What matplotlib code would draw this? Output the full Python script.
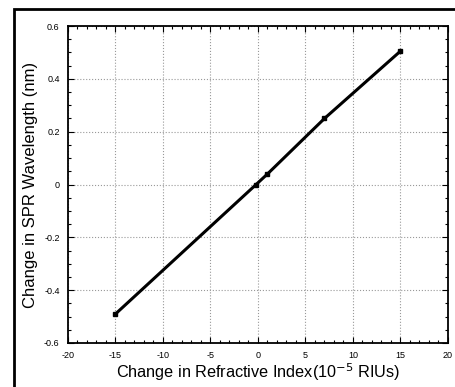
import matplotlib
matplotlib.use("Agg")
import matplotlib.pyplot as plt
from matplotlib.ticker import MultipleLocator, FixedLocator
from matplotlib.patches import Rectangle

x_vals = [-15, -0.2, 1, 7, 15]
y_vals = [-0.49, 0.0, 0.04, 0.25, 0.505]
x_ticks = [-20, -15, -10, -5, 0, 5, 10, 15, 20]
y_ticks = [-0.6, -0.4, -0.2, 0, 0.2, 0.4, 0.6]
y_tick_labels = ["-0.6", "-0.4", "-0.2", "0", "0.2", "0.4", "0.6"]

plt.rcParams['font.family'] = ['Liberation Sans', 'DejaVu Sans']
plt.rcParams['axes.unicode_minus'] = False
fig = plt.figure(figsize=(4.56, 3.87), dpi=100)
W, H = 456, 387
ax = fig.add_axes([68 / W, 1 - 343 / H, (448 - 68) / W, (343 - 26) / H])

# outer frame
fig.patches.append(Rectangle((14 / W, -0.1), 1.2, (1 - 9 / H) + 0.1, transform=fig.transFigure,
                             fill=False, edgecolor='black', linewidth=2.0))

ax.plot(x_vals, y_vals, color='black', linewidth=2.2, marker='s', markersize=3)
ax.set_xlim(-20, 20)
ax.set_ylim(-0.6, 0.6)
ax.xaxis.set_major_locator(FixedLocator(x_ticks))
ax.yaxis.set_major_locator(FixedLocator(y_ticks))
ax.set_yticklabels(y_tick_labels)
ax.xaxis.set_minor_locator(MultipleLocator(1))
ax.yaxis.set_minor_locator(MultipleLocator(0.05))
ax.tick_params(which='both', direction='in', top=True, right=True, labelsize=6.5, width=0.8)
ax.tick_params(which='major', length=4, pad=6)
ax.tick_params(which='minor', length=2)
ax.grid(True, which='major', linestyle=':', color='#999999', linewidth=0.8)
for s in ax.spines.values():
    s.set_linewidth(1.3)
ax.set_xlabel("Change in Refractive Index(10$^{-5}$ RIUs)", fontsize=11.7, labelpad=1)
ax.set_ylabel("Change in SPR Wavelength (nm)", fontsize=12, labelpad=4)

fig.savefig("out.png", dpi=100)
